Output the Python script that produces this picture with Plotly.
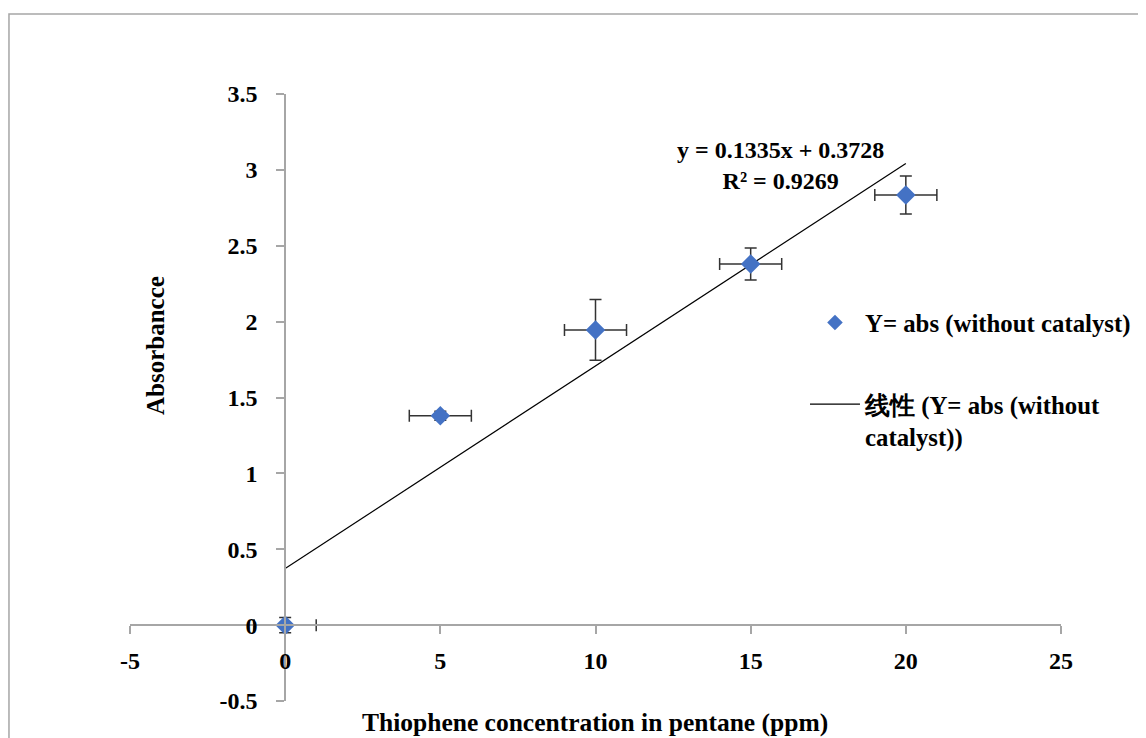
import plotly.graph_objects as go

# ---- data ----
conc_ppm = [0, 5, 10, 15, 20]
absorbance = [0.0, 1.38, 1.945, 2.38, 2.835]
abs_err = [0.05, 0.03, 0.2, 0.105, 0.125]
conc_err = [1, 1, 1, 1, 1]
slope = 0.1335
intercept = 0.3728
trend_x = [0, 20]
trend_y = [slope * v + intercept for v in trend_x]

x_tickvals = [-5, 0, 5, 10, 15, 20, 25]
x_ticktext = ["-5", "0", "5", "10", "15", "20", "25"]
y_tickvals = [-0.5, 0, 0.5, 1, 1.5, 2, 2.5, 3, 3.5]
y_ticktext = ["-0.5", "0", "0.5", "1", "1.5", "2", "2.5", "3", "3.5"]

FONT = "Liberation Serif"
AX = "#A6A6A6"
fs = 24

fig = go.Figure()
fig.add_trace(go.Scatter(
    x=trend_x, y=trend_y, mode="lines",
    line=dict(color="black", width=1.2),
    name="线性 (Y= abs (without<br>catalyst))",
    legend="legend2",
))
fig.add_trace(go.Scatter(
    x=conc_ppm, y=absorbance, mode="markers",
    marker=dict(symbol="diamond", size=15, color="#4472C4"),
    error_y=dict(type="data", array=abs_err, color="#333333", thickness=1.5, width=6),
    error_x=dict(type="data", array=conc_err, color="#333333", thickness=1.5, width=6),
    name="Y= abs (without catalyst)",
    legend="legend",
))

fig.add_annotation(
    x=15.95, y=3.028, xref="x", yref="y",
    text="y = 0.1335x + 0.3728<br>R² = 0.9269",
    showarrow=False, align="center",
    font=dict(family=FONT, size=fs, color="black", weight="bold"),
)
fig.add_annotation(
    x=0.4995, y=-0.0346, xref="paper", yref="paper",
    text="Thiophene concentration in pentane (ppm)",
    showarrow=False, xanchor="center", yanchor="middle",
    font=dict(family=FONT, size=25.5, color="black", weight="bold"),
)
fig.add_annotation(
    x=0.028, y=0.585, xref="paper", yref="paper",
    text="Absorbancce", textangle=-90,
    showarrow=False, xanchor="center", yanchor="middle",
    font=dict(family=FONT, size=25, color="black", weight="bold"),
)

# outer chart border
fig.add_shape(type="rect", xref="paper", yref="paper",
              x0=-0.13, x1=1.1, y0=-0.08, y1=1.1318,
              line=dict(color="#A6A6A6", width=1.5), layer="below")

legend_font = dict(family=FONT, size=24.8, color="black", weight="bold")
fig.update_layout(
    width=1138, height=730,
    margin=dict(l=122, r=85, t=86, b=37, autoexpand=False),
    paper_bgcolor="white", plot_bgcolor="white",
    font=dict(family=FONT, size=fs, color="black", weight="bold"),
    showlegend=True,
    legend=dict(x=0.725, y=0.623, xanchor="left", yanchor="middle",
                itemwidth=50, itemsizing="constant",
                bgcolor="rgba(0,0,0,0)", font=legend_font),
    legend2=dict(x=0.725, y=0.462, xanchor="left", yanchor="middle",
                 itemwidth=50, valign="top",
                 bgcolor="rgba(0,0,0,0)", font=legend_font),
    xaxis=dict(range=[-5, 25], tickvals=x_tickvals, ticktext=x_ticktext,
               showgrid=False, zeroline=False, showline=True, linecolor=AX, linewidth=1.5,
               ticks="outside", ticklen=8, tickcolor=AX, tickwidth=1.5,
               anchor="free", position=0.125, ticklabelstandoff=6,
               automargin=False,
               tickfont=dict(family=FONT, size=fs, weight="bold")),
    yaxis=dict(range=[-0.5, 3.5], tickvals=y_tickvals, ticktext=y_ticktext,
               showgrid=False, zeroline=False, showline=True, linecolor=AX, linewidth=1.5,
               ticks="outside", ticklen=8, tickcolor=AX, tickwidth=1.5,
               anchor="free", position=5/30, ticklabelstandoff=14,
               automargin=False,
               tickfont=dict(family=FONT, size=fs, weight="bold")),
)

fig.write_html("out.html")
